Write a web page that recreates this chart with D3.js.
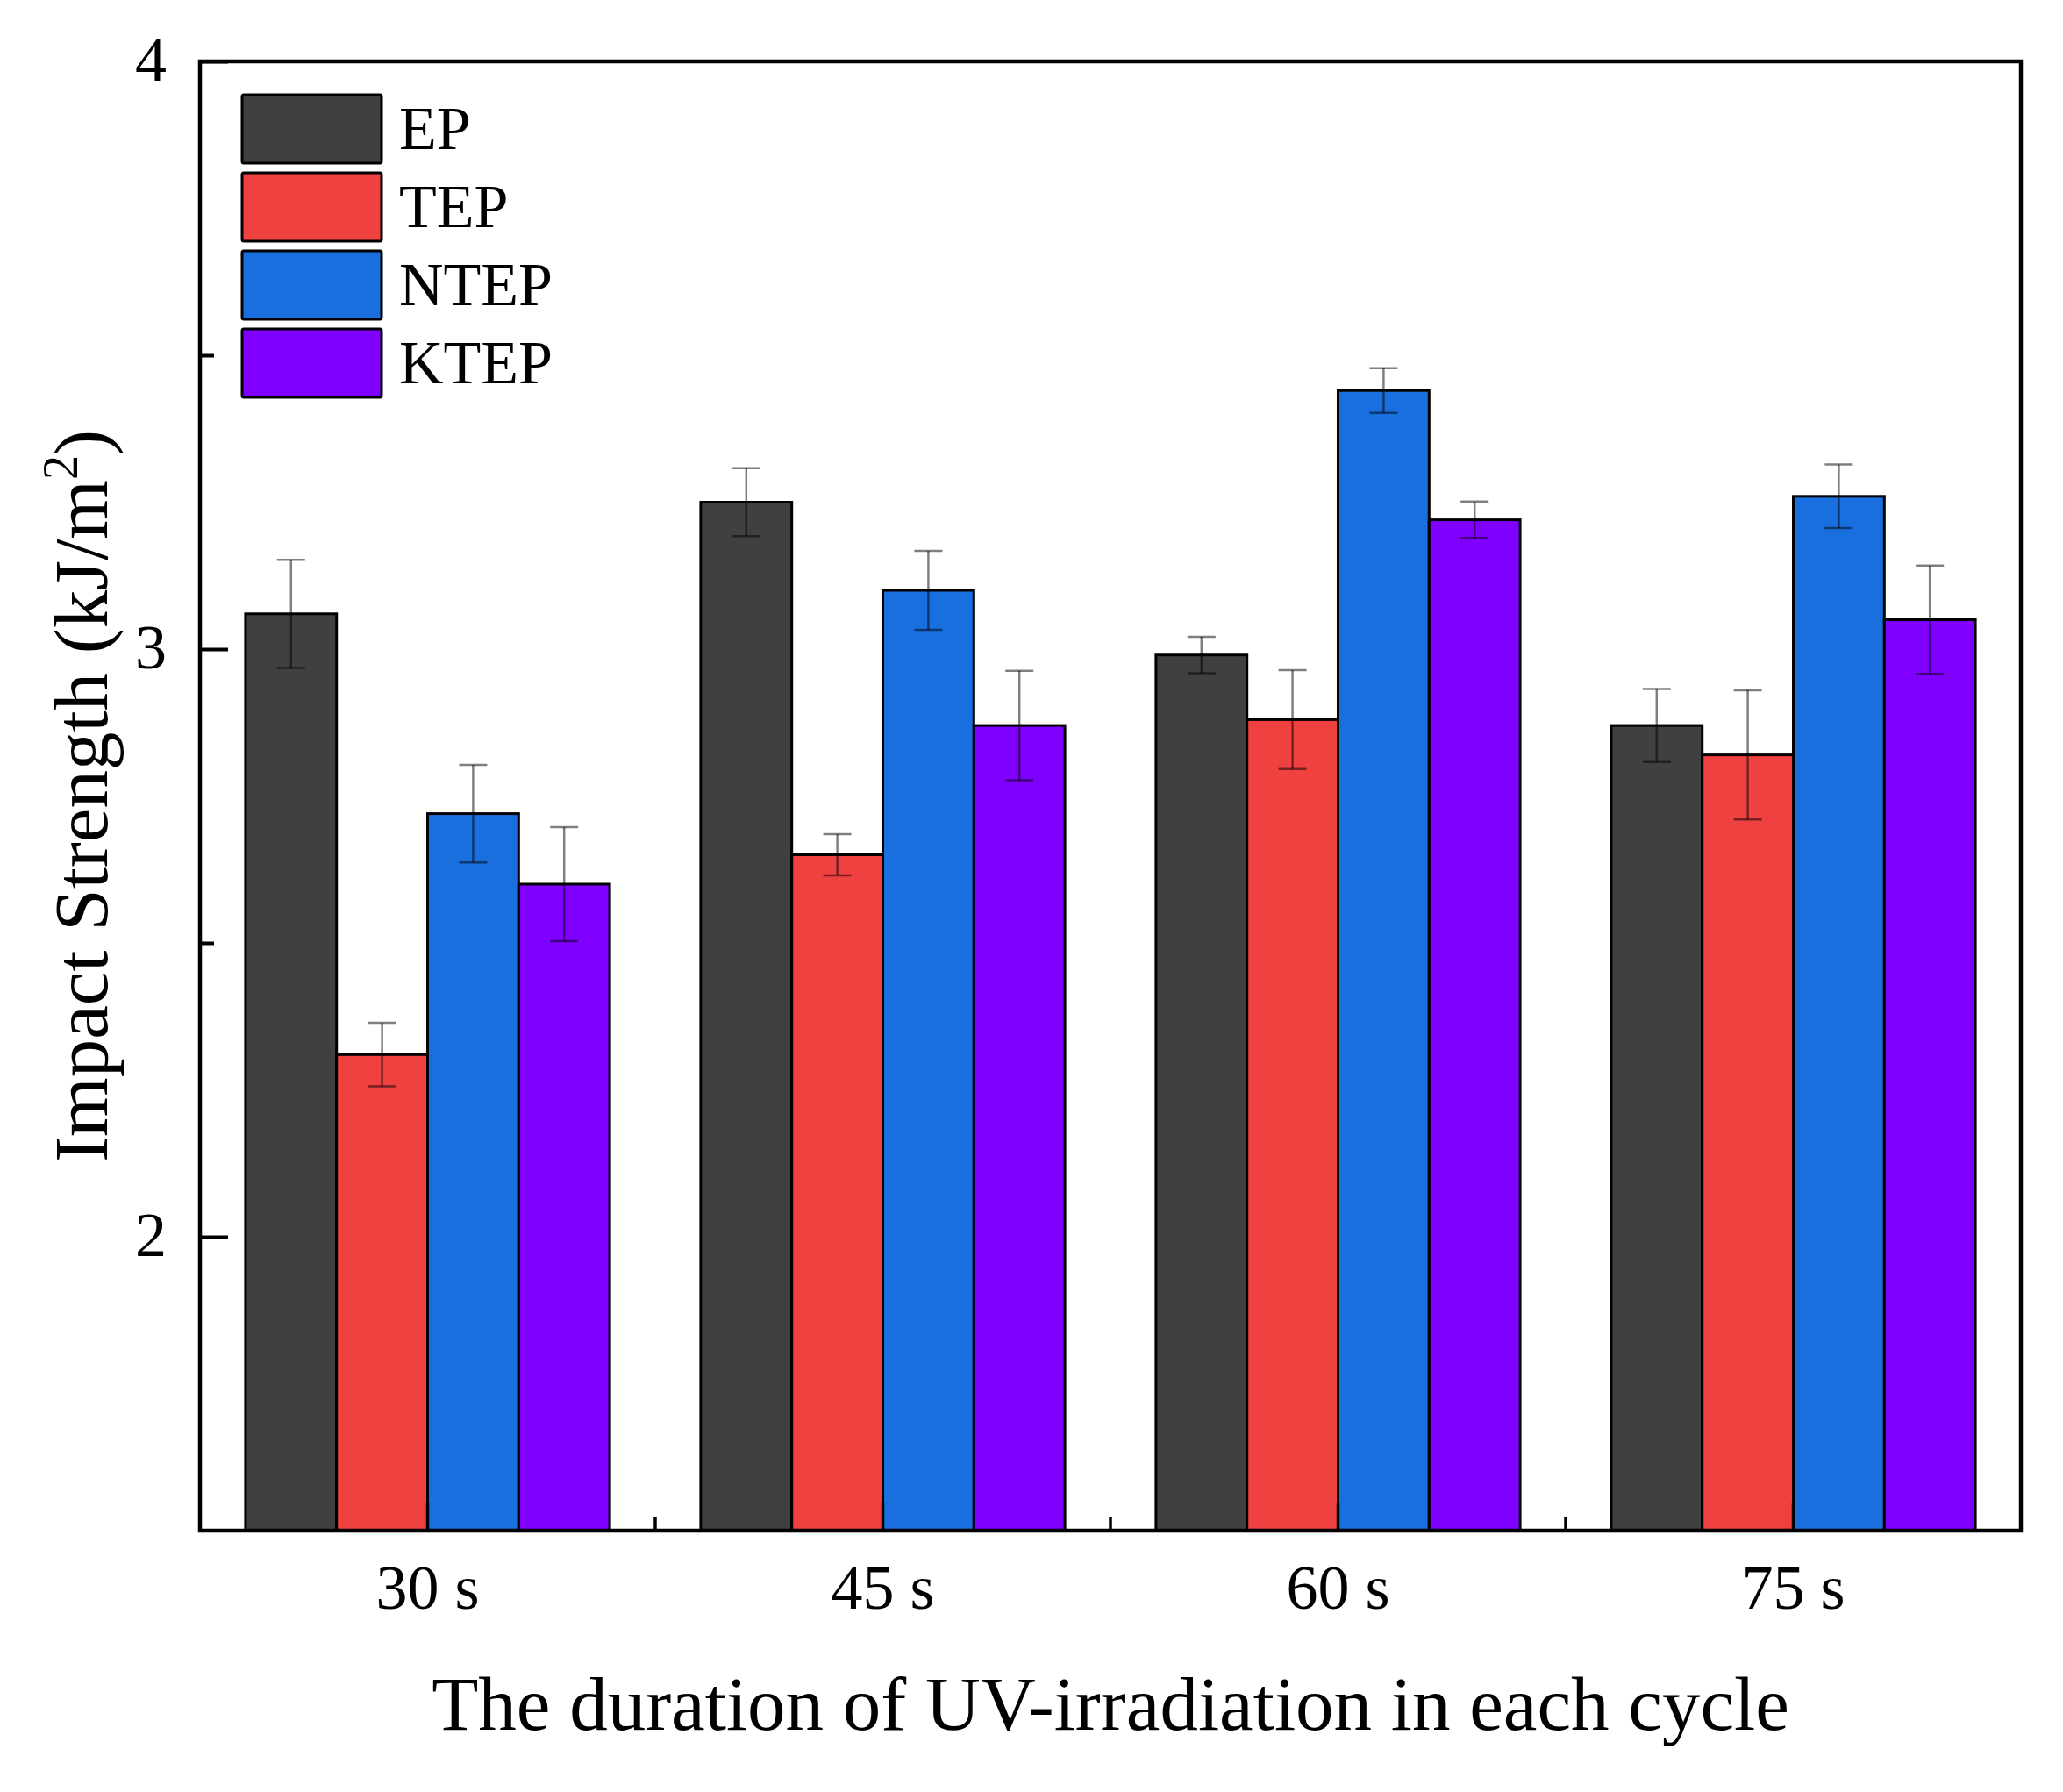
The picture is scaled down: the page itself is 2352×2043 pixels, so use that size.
<!DOCTYPE html>
<html>
<head>
<meta charset="utf-8">
<script src="https://cdn.jsdelivr.net/npm/d3@7"></script>
<style>
  body { margin: 0; background: #fff; }
  text { font-family: "Liberation Serif", "Times New Roman", serif; fill: #000; }
</style>
</head>
<body>
<svg id="chart" width="2352" height="2043"></svg>
<script>
// Data

var categories = ["30 s", "45 s", "60 s", "75 s"];
var series = ["EP", "TEP", "NTEP", "KTEP"];
var colors = ["#404040", "#F04141", "#1A6FDF", "#8000FF"];

var EP = [3.06, 3.25, 2.99, 2.87];
var TEP = [2.31, 2.65, 2.88, 2.82];
var NTEP = [2.72, 3.10, 3.44, 3.26];
var KTEP = [2.60, 2.87, 3.22, 3.05];

var EP_err = [0.092, 0.058, 0.031, 0.062];
var TEP_err = [0.054, 0.035, 0.084, 0.110];
var NTEP_err = [0.083, 0.067, 0.038, 0.054];
var KTEP_err = [0.097, 0.093, 0.031, 0.092];

var yTicks = [2, 3, 4];
var yMinorTicks = [2.5, 3.5];

// Build table for drawing

var values = [EP, TEP, NTEP, KTEP];
var errors = [EP_err, TEP_err, NTEP_err, KTEP_err];
var rows = [];
categories.forEach(function(c, i) {
    series.forEach(function(s, j) {
        rows.push({cat: c, series: s, value: values[j][i], err: errors[j][i], color: colors[j]});
    });
});

// Chart

var margin = {left: 228, right: 48, top: 70, bottom: 298};
var width = 2352, height = 2043;
var svg = d3.select("#chart");

var x0 = d3.scaleBand().domain(categories).range([margin.left, width - margin.right]).padding(0);
var x1 = d3.scaleBand().domain(series).range([x0.bandwidth() * 0.1, x0.bandwidth() * 0.9]).padding(0);
var y = d3.scaleLinear().domain([1.5, 4]).range([height - margin.bottom, margin.top]);

var plotBottom = y(1.5), plotTop = y(4);

// bars
svg.append("g").selectAll("rect")
    .data(rows)
    .enter().append("rect")
    .attr("x", function(d) { return x0(d.cat) + x1(d.series); })
    .attr("y", function(d) { return y(d.value); })
    .attr("width", x1.bandwidth())
    .attr("height", function(d) { return plotBottom - y(d.value); })
    .attr("fill", function(d) { return d.color; })
    .attr("stroke", "#000")
    .attr("stroke-width", 3);

// error bars
var eb = svg.append("g")
    .attr("stroke", "#000")
    .attr("stroke-opacity", 0.5)
    .attr("stroke-width", 2.5);

rows.forEach(function(d) {
    var cx = x0(d.cat) + x1(d.series) + x1.bandwidth() / 2;
    var capW = 16;
    eb.append("line").attr("x1", cx).attr("x2", cx).attr("y1", y(d.value + d.err)).attr("y2", y(d.value - d.err));
    eb.append("line").attr("x1", cx - capW).attr("x2", cx + capW).attr("y1", y(d.value + d.err)).attr("y2", y(d.value + d.err));
    eb.append("line").attr("x1", cx - capW).attr("x2", cx + capW).attr("y1", y(d.value - d.err)).attr("y2", y(d.value - d.err));
});

// y axis (ticks pointing inward)
var yAxis = svg.append("g")
    .attr("transform", "translate(" + margin.left + ",0)")
    .call(d3.axisRight(y).tickValues(yTicks).tickSize(32).tickFormat(""));
yAxis.select(".domain").remove();
yAxis.selectAll("line").attr("stroke", "#000").attr("stroke-width", 4);

var yMinor = svg.append("g")
    .attr("transform", "translate(" + margin.left + ",0)")
    .call(d3.axisRight(y).tickValues(yMinorTicks).tickSize(16).tickFormat(""));
yMinor.select(".domain").remove();
yMinor.selectAll("line").attr("stroke", "#000").attr("stroke-width", 4);

svg.append("g").selectAll("text")
    .data(yTicks)
    .enter().append("text")
    .attr("x", 190)
    .attr("y", function(d) { return y(d); })
    .attr("dy", "0.3em")
    .attr("text-anchor", "end")
    .attr("font-size", 72)
    .text(function(d) { return d; });

// x axis
var xAxis = svg.append("g")
    .attr("transform", "translate(0," + plotBottom + ")")
    .call(d3.axisTop(x0).tickSize(32).tickFormat(""));
xAxis.select(".domain").remove();
xAxis.selectAll("line").attr("stroke", "#000").attr("stroke-width", 3.5);

var boundaries = categories.slice(1).map(function(c) { return x0(c); });
svg.append("g").selectAll("line")
    .data(boundaries)
    .enter().append("line")
    .attr("x1", function(d) { return d; })
    .attr("x2", function(d) { return d; })
    .attr("y1", plotBottom)
    .attr("y2", plotBottom - 15)
    .attr("stroke", "#000")
    .attr("stroke-width", 3.5);

svg.append("g").selectAll("text")
    .data(categories)
    .enter().append("text")
    .attr("x", function(d) { return x0(d) + x0.bandwidth() / 2; })
    .attr("y", 1834)
    .attr("text-anchor", "middle")
    .attr("font-size", 72)
    .text(function(d) { return d; });

// frame
svg.append("rect")
    .attr("x", margin.left)
    .attr("y", plotTop)
    .attr("width", width - margin.right - margin.left)
    .attr("height", plotBottom - plotTop)
    .attr("fill", "none")
    .attr("stroke", "#000")
    .attr("stroke-width", 4.5);

// axis titles
svg.append("text")
    .attr("x", (margin.left + width - margin.right) / 2)
    .attr("y", 1972)
    .attr("text-anchor", "middle")
    .attr("font-size", 87)
    .text("The duration of UV-irradiation in each cycle");

var yt = svg.append("text")
    .attr("transform", "translate(122," + (plotTop + plotBottom) / 2 + ") rotate(-90)")
    .attr("text-anchor", "middle")
    .attr("font-size", 87);
yt.append("tspan").text("Impact Strength (kJ/m");
yt.append("tspan").attr("font-size", 56).attr("dy", -34).text("2");
yt.append("tspan").attr("dy", 34).text(")");

// legend
var legend = svg.append("g");
series.forEach(function(s, i) {
    var ly = 108 + i * 89;
    legend.append("rect")
        .attr("x", 276)
        .attr("y", ly)
        .attr("width", 159)
        .attr("height", 78)
        .attr("rx", 2)
        .attr("fill", colors[i])
        .attr("stroke", "#000")
        .attr("stroke-width", 3);
    legend.append("text")
        .attr("x", 455)
        .attr("y", ly + 39)
        .attr("dy", "0.33em")
        .attr("font-size", 70)
        .text(s);
});
</script>
</body>
</html>
